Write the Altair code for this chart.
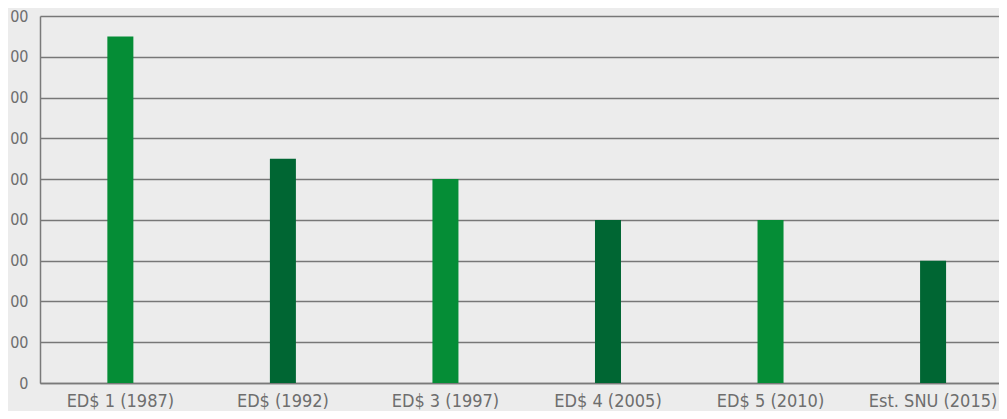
import altair as alt
import pandas as pd

categories = ["ED$ 1 (1987)", "ED$ (1992)", "ED$ 3 (1997)", "ED$ 4 (2005)", "ED$ 5 (2010)", "Est. SNU (2015)"]
values = [850, 550, 500, 400, 400, 300]
shades = ["light", "dark", "light", "dark", "light", "dark"]

df = pd.DataFrame({"cat": categories, "val": values, "shade": shades})

FONT = "'Liberation Sans Narrow', 'DejaVu Sans Condensed', Roboto"
GRAY = "#6e6e6e"

chart = alt.Chart(df).mark_bar().encode(
    x=alt.X("cat:N", sort=categories, title=None,
            scale=alt.Scale(paddingInner=0.84, paddingOuter=0.37, align=0.56),
            axis=alt.Axis(labelAngle=0, labelFont=FONT, labelFontSize=18, labelColor=GRAY,
                          labelPadding=9, ticks=False, domainColor="#7a7a7a", domainWidth=1.5,
                          grid=False)),
    y=alt.Y("val:Q", title=None,
            scale=alt.Scale(domain=[0, 900], nice=False),
            axis=alt.Axis(values=[0, 100, 200, 300, 400, 500, 600, 700, 800, 900],
                          labelExpr="datum.value == 0 ? '0' : '00'",
                          labelFont=FONT, labelFontSize=16, labelColor=GRAY,
                          labelPadding=12, ticks=False, domainColor="#7a7a7a", domainWidth=1.5,
                          grid=True, gridColor="#777777", gridWidth=1.5)),
    color=alt.Color("shade:N", scale=alt.Scale(domain=["light", "dark"], range=["#058d36", "#006633"]),
                    legend=None),
).properties(
    width=959,
    height=367,
    background="#ececec",
    padding={"left": 32, "top": 8, "right": 0, "bottom": 28},
    autosize=alt.AutoSizeParams(type="none"),
).configure_view(stroke=None)

chart.save("out.html", embed_options={"renderer": "svg", "actions": False})
